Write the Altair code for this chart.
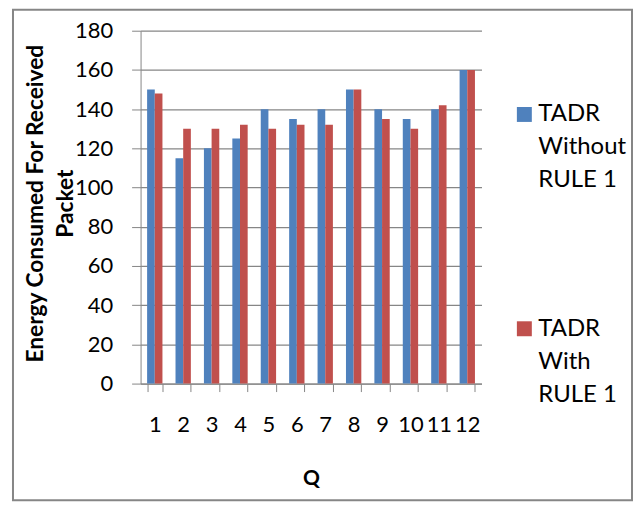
import altair as alt
import pandas as pd

q_labels = [str(i) for i in range(1, 13)]
without_rule = [150, 115, 120, 125, 140, 135, 140, 150, 140, 135, 140, 160]
with_rule = [148, 130, 130, 132, 130, 132, 132, 150, 135, 130, 142, 160]
series_names = ["TADR Without RULE 1", "TADR With RULE 1"]
colors = ["#4F81BD", "#C0504D"]
y_ticks = list(range(0, 181, 20))

rows = []
for i, qq in enumerate(q_labels):
    rows.append({"Q": qq, "series": series_names[0], "value": without_rule[i]})
    rows.append({"Q": qq, "series": series_names[1], "value": with_rule[i]})
df = pd.DataFrame(rows)

FONT = "Lato"
GRAY = "#868686"
W, H = 342, 354

bars = alt.Chart(df).mark_bar().encode(
    x=alt.X(
        "Q:N",
        sort=q_labels,
        scale=alt.Scale(paddingInner=0.46, paddingOuter=0.23),
        axis=alt.Axis(
            title="Q",
            labelAngle=0,
            labelFont=FONT,
            labelFontSize=22,
            labelColor="black",
            labelPadding=23,
            labelOverlap=False,
            tickBand="extent",
            tickSize=8,
            tickColor=GRAY,
            domainColor=GRAY,
            grid=False,
            titleFont=FONT,
            titleFontSize=21,
            titleFontWeight="bold",
            titleColor="black",
            titleY=95,
            titleBaseline="middle",
        ),
    ),
    xOffset=alt.XOffset("series:N", sort=series_names),
    y=alt.Y(
        "value:Q",
        scale=alt.Scale(domain=[0, 180], nice=False),
        axis=alt.Axis(
            values=y_ticks,
            title=["Energy Consumed For Received", "Packet"],
            titleFont=FONT,
            titleFontSize=22.8,
            titleFontWeight="bold",
            titleColor="black",
            titleAngle=270,
            titleAlign="center",
            titleBaseline="top",
            titleX=-116,
            titleY=173,
            titleLineHeight=30,
            labelFont=FONT,
            labelFontSize=22,
            labelColor="black",
            labelPadding=19,
            tickSize=9,
            tickColor=GRAY,
            domainColor=GRAY,
            gridColor=GRAY,
            gridWidth=1.2,
        ),
    ),
    color=alt.Color(
        "series:N",
        sort=series_names,
        scale=alt.Scale(domain=series_names, range=colors),
        legend=alt.Legend(
            title=None,
            orient="none",
            legendX=373,
            legendY=72,
            padding=0,
            symbolType="square",
            symbolSize=225,
            symbolStrokeWidth=0,
            symbolOpacity=1,
            labelFont=FONT,
            labelFontSize=24,
            labelColor="black",
            labelLimit=0,
            labelOffset=2,
            labelBaseline="middle",
            rowPadding=125,
            labelExpr="datum.value == 'TADR Without RULE 1' ? ['TADR', 'Without', 'RULE 1'] : ['TADR', 'With', 'RULE 1']",
        ),
    ),
)

frame = alt.Chart(pd.DataFrame({"k": [0]})).mark_rect(
    filled=False, stroke=GRAY, strokeWidth=2
).encode(
    x=alt.value(-128), x2=alt.value(493), y=alt.value(-21), y2=alt.value(471)
)

chart = alt.layer(frame, bars).properties(
    width=W,
    height=H,
    autosize="none",
    padding={"left": 133, "top": 22, "right": 152, "bottom": 118},
    background="white",
).configure(
    style={"guide-label": {"lineHeight": 33}},
).configure_view(stroke=None)

chart.save("out.html", embed_options={"renderer": "svg", "actions": False})
